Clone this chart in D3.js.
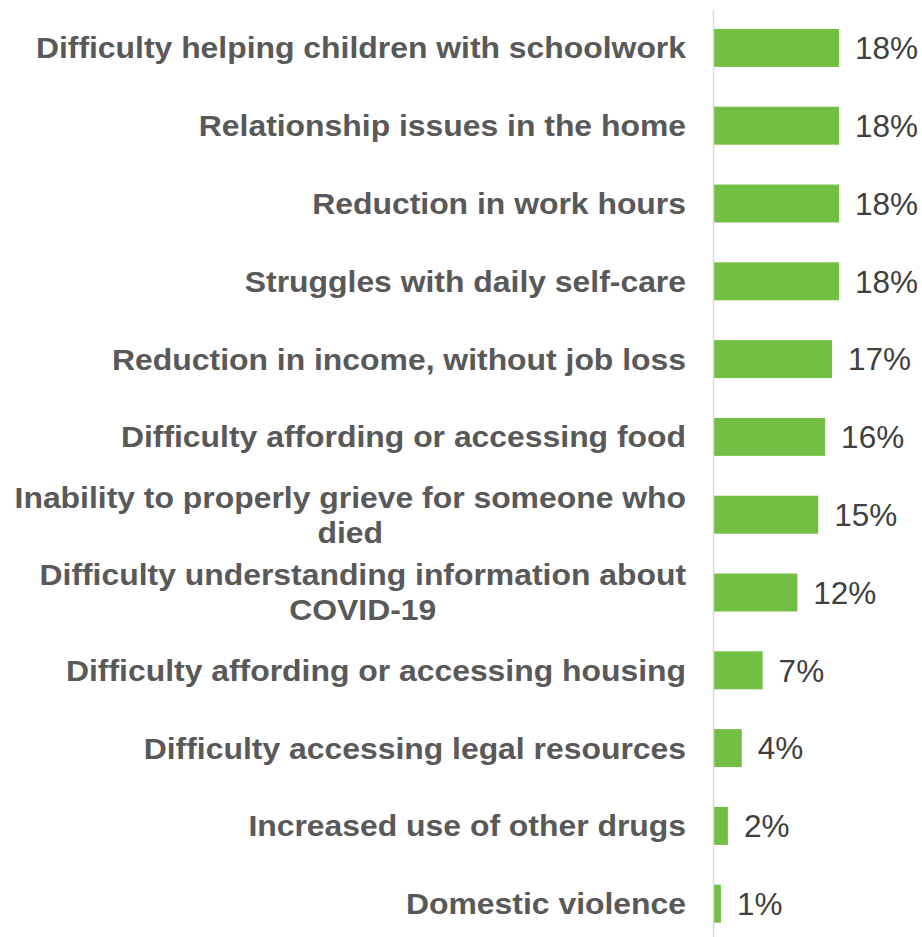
<!DOCTYPE html>
<html>
<head>
<meta charset="utf-8">
<script src="https://cdn.jsdelivr.net/npm/d3@7"></script>
<style>
html,body{margin:0;padding:0;background:#fff;}
svg{display:block;}
</style>
</head>
<body>
<svg id="chart" width="922" height="937"></svg>
<script>
const categories = [
  "Difficulty helping children with schoolwork",
  "Relationship issues in the home",
  "Reduction in work hours",
  "Struggles with daily self-care",
  "Reduction in income, without job loss",
  "Difficulty affording or accessing food",
  "Inability to properly grieve for someone who died",
  "Difficulty understanding information about COVID-19",
  "Difficulty affording or accessing housing",
  "Difficulty accessing legal resources",
  "Increased use of other drugs",
  "Domestic violence"
];
const values = [18, 18, 18, 18, 17, 16, 15, 12, 7, 4, 2, 1];
const valueLabels = ["18%","18%","18%","18%","17%","16%","15%","12%","7%","4%","2%","1%"];

const svg = d3.select("#chart");
const axisX = 713.5;
const labelRight = 686;
const maxLabelWidth = 680;
const sx = 1.1;

const x = d3.scaleLinear().domain([0, 18]).range([axisX + 0.5, 839]);
const y = d3.scaleBand().domain(categories).range([9, 942.6]).paddingInner(0.512).paddingOuter(0.256);

// bars
svg.append("g").selectAll("rect").data(categories).join("rect")
  .attr("x", x(0))
  .attr("y", d => y(d))
  .attr("width", (d, i) => x(values[i]) - x(0))
  .attr("height", y.bandwidth())
  .attr("fill", "#72BF44");

// axis line
svg.append("line")
  .attr("x1", axisX).attr("x2", axisX)
  .attr("y1", 10).attr("y2", 937)
  .attr("stroke", "#d9d9d9").attr("stroke-width", 1.5);

// value labels
svg.append("g").selectAll("text").data(categories).join("text")
  .attr("x", (d, i) => x(values[i]) + 16)
  .attr("y", d => y(d) + y.bandwidth() / 2)
  .attr("dy", "0.36em")
  .attr("font-family", "Liberation Sans, Arial, sans-serif")
  .attr("font-size", 31.5)
  .attr("fill", "#404040")
  .text((d, i) => valueLabels[i]);

// category labels with wrapping (slightly stretched horizontally)
const lg = svg.append("g").attr("transform", `translate(${labelRight},0) scale(${sx},1)`);
categories.forEach(cat => {
  const words = cat.split(" ");
  const t = lg.append("text")
    .attr("font-family", "Liberation Sans, Arial, sans-serif")
    .attr("font-size", 29)
    .attr("font-weight", "bold")
    .attr("fill", "#595959");
  const lines = [];
  let line = [];
  const probe = t.append("tspan");
  words.forEach(w => {
    line.push(w);
    probe.text(line.join(" "));
    if (probe.node().getComputedTextLength() * sx > maxLabelWidth && line.length > 1) {
      line.pop();
      lines.push(line.join(" "));
      line = [w];
    }
  });
  lines.push(line.join(" "));
  probe.remove();
  const widths = lines.map(l => { const s = t.append("tspan").text(l); const w = s.node().getComputedTextLength(); s.remove(); return w; });
  const maxW = d3.max(widths);
  const cx = -maxW / 2;
  const lh = 35;
  const cy = y(cat) + y.bandwidth() / 2;
  const y0 = cy - (lines.length - 1) * lh / 2;
  t.attr("text-anchor", lines.length > 1 ? "middle" : "end");
  lines.forEach((l, i) => {
    t.append("tspan")
      .attr("x", lines.length > 1 ? cx : 0)
      .attr("y", y0 + i * lh)
      .attr("dy", "0.36em")
      .text(l);
  });
});
</script>
</body>
</html>
